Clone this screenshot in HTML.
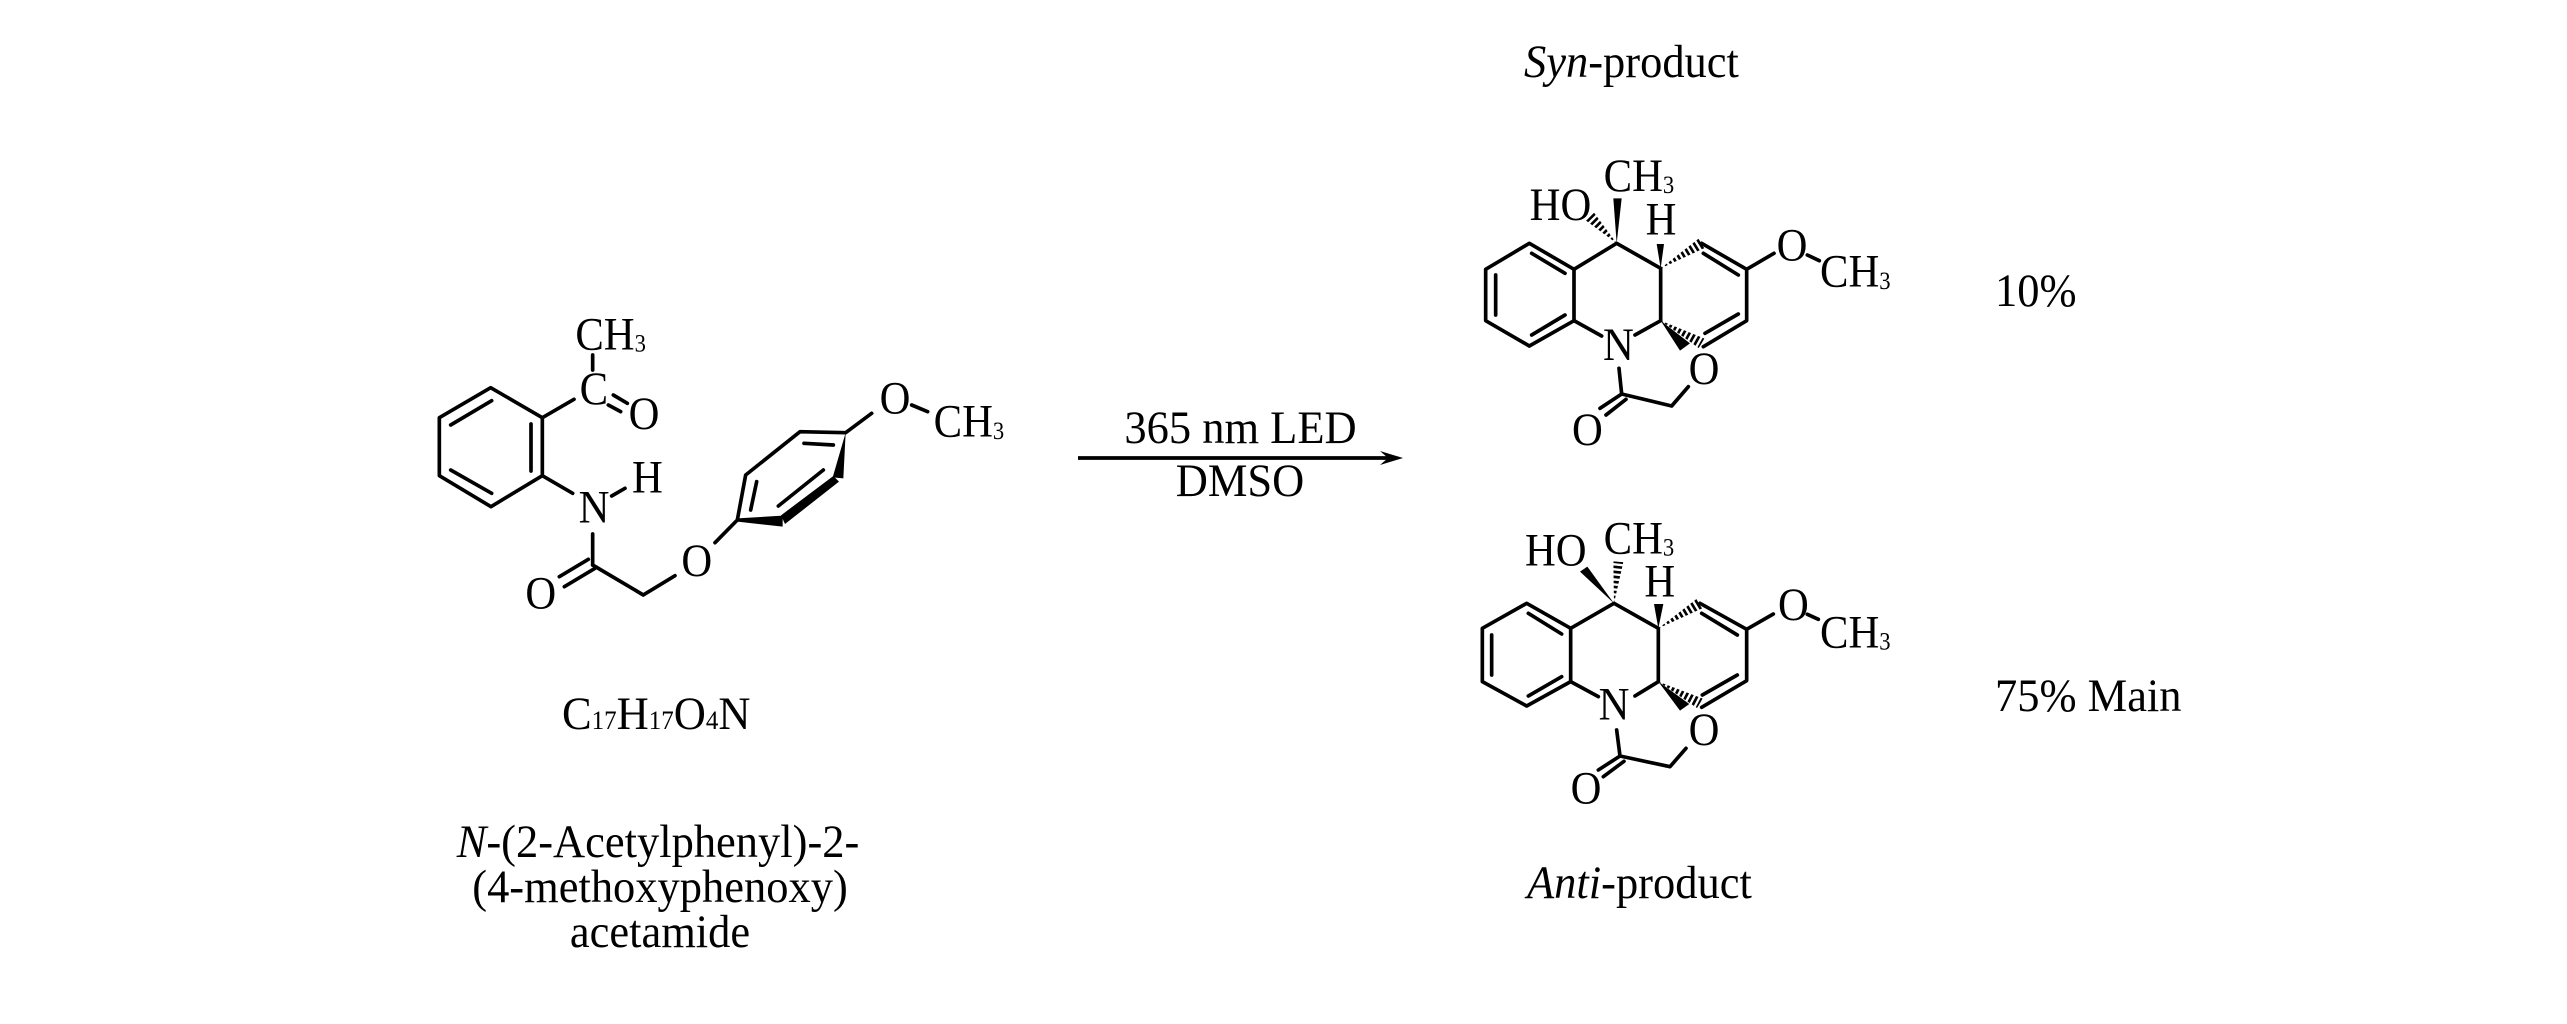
<!DOCTYPE html>
<html>
<head>
<meta charset="utf-8">
<style>
html,body{margin:0;padding:0;background:#fff;}
svg{display:block;}
text{font-family:"Liberation Serif",serif;fill:#000;}
.cap{font-size:44.5px;}
.z{font-size:128px;}
.bond{stroke:#000;fill:none;stroke-linecap:round;stroke-linejoin:round;}
</style>
</head>
<body>
<svg width="2567" height="1024" viewBox="0 0 2567 1024" xmlns="http://www.w3.org/2000/svg">
<rect width="2567" height="1024" fill="#fff"/>

<!-- Captions -->
<text class="cap" transform="translate(1524,77) scale(1,1.04)"><tspan font-style="italic">Syn</tspan>-product</text>
<text class="cap" transform="translate(1527,898) scale(1,1.04)"><tspan font-style="italic">Anti</tspan>-product</text>
<text class="cap" transform="translate(1995,306) scale(1,1.04)">10%</text>
<text class="cap" transform="translate(1995,711) scale(1,1.04)">75% Main</text>
<text class="cap" transform="translate(1240.500,443) scale(1,1.04)" text-anchor="middle">365 nm LED</text>
<text class="cap" transform="translate(1240,496) scale(1,1.04)" text-anchor="middle">DMSO</text>
<text class="cap" transform="translate(562,729) scale(1,1.04)">C<tspan font-size="25">17</tspan>H<tspan font-size="25">17</tspan>O<tspan font-size="25">4</tspan>N</text>
<text class="cap" transform="translate(658,857) scale(1,1.04)" text-anchor="middle"><tspan font-style="italic">N</tspan>-(2-Acetylphenyl)-2-</text>
<text class="cap" transform="translate(660,902) scale(1,1.04)" text-anchor="middle">(4-methoxyphenoxy)</text>
<text class="cap" transform="translate(660,947) scale(1,1.04)" text-anchor="middle">acetamide</text>

<!-- Arrow -->
<line x1="1078" y1="458" x2="1390" y2="458" stroke="#000" stroke-width="3.7"/>
<polygon points="1380,451 1403,458 1380,465 1388,458" fill="#000"/>

<!-- Reactant: left part -->
<g transform="translate(420,310) scale(0.33333)">
<g class="bond" stroke-width="11">
<polygon points="212,233 367,323 367,497 213,590 58,497 58,323"/>
<path d="M92,345L215,272M333,342L333,483M92,480L215,550"/>
<path d="M367,323L462,268M518,135L518,180M580,255L622,280M565,285L602,305"/>
<path d="M367,497L458,550M575,558L615,535M518,672L518,765M505,748L418,800M525,775L433,830"/>
<path d="M518,765L670,855L765,797"/>
</g>
<text class="z" transform="translate(466,118) scale(1,1.1)">CH<tspan font-size="68" dy="6">3</tspan></text>
<text class="z" transform="translate(479,282) scale(1,1.1)">C</text>
<text class="z" transform="translate(626,357) scale(1,1.1)">O</text>
<text class="z" transform="translate(476,637) scale(1,1.1)">N</text>
<text class="z" transform="translate(636,548) scale(1,1.1)">H</text>
<text class="z" transform="translate(316,895) scale(1,1.1)">O</text>
<text class="z" transform="translate(784,798) scale(1,1.1)">O</text>
</g>

<!-- Reactant: methoxyphenoxy ring -->
<g transform="translate(700,370) scale(0.33333)">
<g class="bond" stroke-width="11">
<path d="M45,518L112,450L137,315L300,185L437,188L515,130M635,105L683,125"/>
<path d="M170,335L152,420M312,220L400,225M235,408L370,300"/>
</g>
<g fill="#000">
<polygon points="437,188 398,322 430,325"/>
<polygon points="400,318 417,335 255,462 243,436"/>
<polygon points="112,445 112,455 248,470 248,437"/>
</g>
<text class="z" transform="translate(539,130) scale(1,1.1)">O</text>
<text class="z" transform="translate(701,200) scale(1,1.1)">CH<tspan font-size="68" dy="6">3</tspan></text>
</g>

<!-- Syn product -->
<g transform="translate(1450,130) scale(0.33333)">
<clipPath id="s1"><polygon points="500,340 432,248 408,272"/></clipPath>
<clipPath id="s2"><polygon points="632,415 764,354 746,326"/></clipPath>
<clipPath id="s3"><polygon points="632,572 764,626 746,654"/></clipPath>
<g class="bond" stroke-width="11">
<polygon points="238,340 372,418 372,572 238,648 107,572 107,418"/>
<path d="M245,370L345,430M137,435L137,555M245,615L345,555"/>
<path d="M372,418L500,340L632,415L632,572L555,615M372,572L455,618"/>
<path d="M755,340L890,418L890,572L760,650M760,370L865,435M765,610L865,552"/>
<path d="M715,770L665,828L515,792L507,715M515,792L450,835M528,808L468,855"/>
<path d="M890,418L972,370M1072,375L1108,392"/>
</g>
<g fill="#000">
<polygon points="500,340 490,205 515,205"/>
<polygon points="632,415 620,342 642,342"/>
<polygon points="632,572 690,662 720,640"/>
</g>
<g stroke="#000" stroke-width="38" stroke-dasharray="8 7">
<line x1="500" y1="340" x2="420" y2="260" clip-path="url(#s1)"/>
<line x1="632" y1="415" x2="755" y2="340" clip-path="url(#s2)"/>
<line x1="632" y1="572" x2="755" y2="640" clip-path="url(#s3)"/>
</g>
<text class="z" transform="translate(461,183) scale(1,1.1)">CH<tspan font-size="68" dy="6">3</tspan></text>
<text class="z" transform="translate(239,270) scale(1,1.1)">HO</text>
<text class="z" transform="translate(587,313) scale(1,1.1)">H</text>
<text class="z" transform="translate(459,690) scale(1,1.1)">N</text>
<text class="z" transform="translate(716,762) scale(1,1.1)">O</text>
<text class="z" transform="translate(366,945) scale(1,1.1)">O</text>
<text class="z" transform="translate(980,392) scale(1,1.1)">O</text>
<text class="z" transform="translate(1110,470) scale(1,1.1)">CH<tspan font-size="68" dy="6">3</tspan></text>
</g>

<!-- Anti product -->
<g transform="translate(1450,500) scale(0.33333)">
<clipPath id="a1"><polygon points="492,310 520,186 490,184"/></clipPath>
<clipPath id="a2"><polygon points="625,385 759,324 741,296"/></clipPath>
<clipPath id="a3"><polygon points="625,545 759,596 741,624"/></clipPath>
<g class="bond" stroke-width="11">
<polygon points="230,310 362,385 362,545 230,618 97,545 97,385"/>
<path d="M235,340L335,402M125,405L125,525M235,588L335,530"/>
<path d="M362,385L492,310L625,385L625,545L555,588M362,545L445,590"/>
<path d="M750,310L890,388L890,542L755,622M755,340L862,405M757,585L862,525"/>
<path d="M708,745L660,800L510,768L500,690M510,768L445,810M522,784L460,830"/>
<path d="M890,388L970,342M1072,343L1105,358"/>
</g>
<g fill="#000">
<polygon points="492,310 390,215 412,200"/>
<polygon points="625,385 612,312 640,312"/>
<polygon points="625,545 690,632 718,612"/>
</g>
<g stroke="#000" stroke-width="38" stroke-dasharray="8 7">
<line x1="492" y1="310" x2="505" y2="185" clip-path="url(#a1)"/>
<line x1="625" y1="385" x2="750" y2="310" clip-path="url(#a2)"/>
<line x1="625" y1="545" x2="750" y2="610" clip-path="url(#a3)"/>
</g>
<text class="z" transform="translate(461,160) scale(1,1.1)">CH<tspan font-size="68" dy="6">3</tspan></text>
<text class="z" transform="translate(225,197) scale(1,1.1)">HO</text>
<text class="z" transform="translate(583,290) scale(1,1.1)">H</text>
<text class="z" transform="translate(446,658) scale(1,1.1)">N</text>
<text class="z" transform="translate(716,735) scale(1,1.1)">O</text>
<text class="z" transform="translate(362,911) scale(1,1.1)">O</text>
<text class="z" transform="translate(984,360) scale(1,1.1)">O</text>
<text class="z" transform="translate(1110,442) scale(1,1.1)">CH<tspan font-size="68" dy="6">3</tspan></text>
</g>
</svg>
</body>
</html>
